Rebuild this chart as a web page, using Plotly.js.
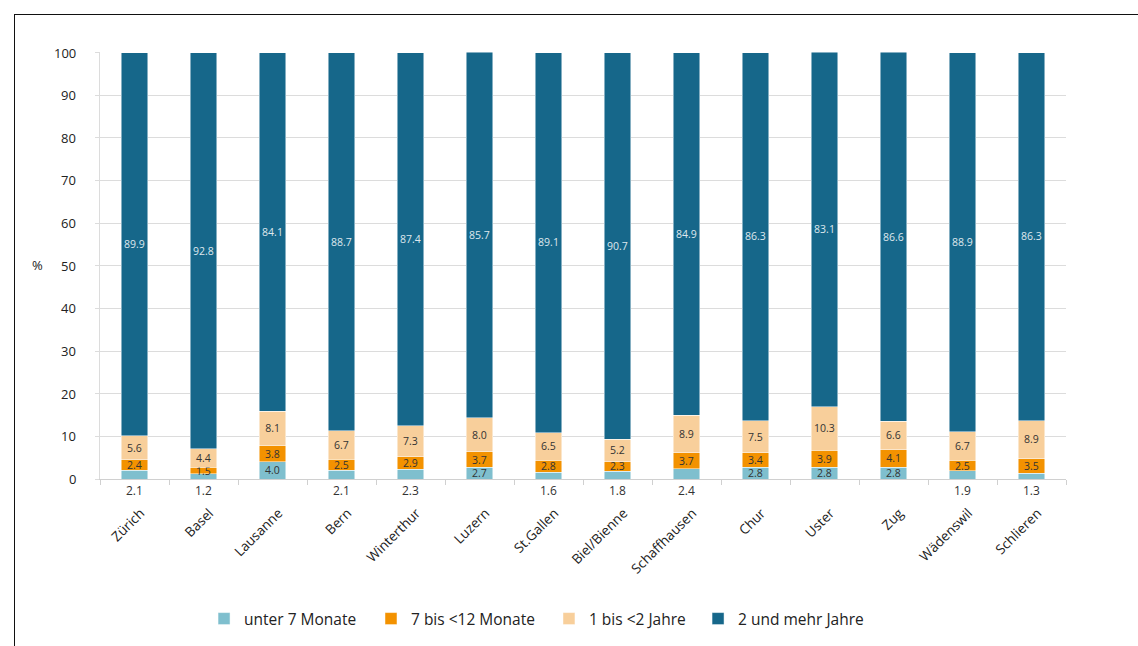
<!DOCTYPE html>
<html><head><meta charset="utf-8">
<script src="https://cdn.plot.ly/plotly-3.0.1.min.js"></script>
<style>
body{margin:0;background:#fff;}
#frame{position:absolute;left:14px;top:14px;width:1124px;height:632px;border-top:1px solid #111;border-left:1px solid #111;}
#chart{position:absolute;left:0;top:0;width:1138px;height:646px;}
</style>
</head><body>
<div id="frame"></div>
<div id="chart"></div>
<script>
const cities = ["Zürich","Basel","Lausanne","Bern","Winterthur","Luzern","St.Gallen","Biel/Bienne","Schaffhausen","Chur","Uster","Zug","Wädenswil","Schlieren"];
const unter7 = [2.1,1.2,4.0,2.1,2.3,2.7,1.6,1.8,2.4,2.8,2.8,2.8,1.9,1.3];
const bis12 = [2.4,1.5,3.8,2.5,2.9,3.7,2.8,2.3,3.7,3.4,3.9,4.1,2.5,3.5];
const bis2j = [5.6,4.4,8.1,6.7,7.3,8.0,6.5,5.2,8.9,7.5,10.3,6.6,6.7,8.9];
const mehr2 = [89.9,92.8,84.1,88.7,87.4,85.7,89.1,90.7,84.9,86.3,83.1,86.6,88.9,86.3];
const names = ["unter 7 Monate","7 bis <12 Monate","1 bis <2 Jahre","2 und mehr Jahre"];
const yTicks = [0,10,20,30,40,50,60,70,80,90,100];
const colors = ["#7fbfce","#f39200","#f8cf9b","#16678a"];
const series = [unter7,bis12,bis2j,mehr2];
const legendX = [0.1793,0.3260,0.4824,0.6134];
const legendIds = ["legend","legend2","legend3","legend4"];
const fmt = v => v.toFixed(1);
const font = "Open Sans, Noto Sans, sans-serif";

const traces = series.map((vals,i)=>({
  type:"bar", x:cities, y:vals, name:names[i], legend:legendIds[i],
  marker:{color:colors[i], line:{color:"rgba(255,255,255,0.6)", width:0.8}},
  text: vals.map(v => (i===0 && v<2.7) ? "" : fmt(v)),
  textposition:"inside", insidetextanchor:"middle", textangle:0,
  textfont:{family:font, size:12, color: i===3 ? "#dfe8ee" : "#333"},
  hoverinfo:"skip", cliponaxis:false
}));

const annotations = [];
unter7.forEach((v,k)=>{
  if (v<2.7) annotations.push({x:cities[k], y:0, xref:"x", yref:"y", text:fmt(v), showarrow:false,
    textangle:0, yanchor:"top", yshift:-1, font:{family:font, size:12, color:"#333"}});
});
// y tick labels
yTicks.forEach(t=>{
  annotations.push({xref:"paper", yref:"y", x:-0.0225, y:t, text:String(t), showarrow:false,
    xanchor:"right", yanchor:"middle", font:{family:font, size:13, color:"#222"}});
});
annotations.push({xref:"paper", yref:"paper", x:-0.065, y:0.501, text:"%", showarrow:false,
  xanchor:"center", yanchor:"middle", font:{family:font, size:13, color:"#222"}});

const layout = {
  width:1138, height:646,
  margin:{l:100, r:72, t:52, b:167, autoexpand:false},
  barmode:"stack", bargap:0.61,
  paper_bgcolor:"rgba(0,0,0,0)", plot_bgcolor:"#fff",
  font:{family:font, size:13, color:"#222"},
  xaxis:{tickangle:-45, tickson:"boundaries", ticks:"outside", ticklen:5, tickcolor:"#d0d0d0",
    showline:true, linecolor:"#d0d0d0", linewidth:1, tickfont:{family:font, size:13.5, color:"#222"},
    showgrid:false, ticklabelstandoff:20, ticklabelshift:6},
  yaxis:{range:[0,100.12], tickvals:yTicks, showticklabels:false,
    showgrid:true, gridcolor:"#dcdcdc", gridwidth:1,
    ticks:"outside", ticklen:4, tickcolor:"#dcdcdc", showline:true, linecolor:"#dcdcdc",
    zeroline:false},
  annotations:annotations,
  uniformtext:{minsize:10, mode:"show"},
  showlegend:true
};
legendIds.forEach((id,i)=>{
  layout[id] = {orientation:"h", xref:"container", yref:"container", x:legendX[i], xanchor:"left",
    y:0.0418, yanchor:"middle",
    font:{family:font, size:15.5, color:"#222"}, itemwidth:30, bgcolor:"rgba(0,0,0,0)"};
});
Plotly.newPlot("chart", traces, layout, {displayModeBar:false, staticPlot:true});
</script>
</body></html>
